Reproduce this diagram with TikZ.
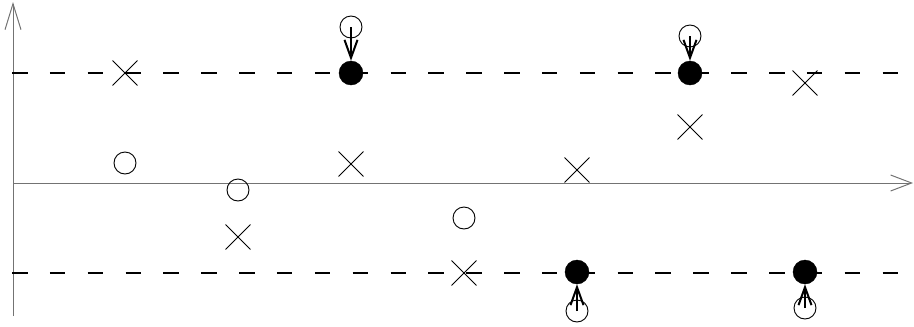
\documentclass[tikz,border=0pt]{standalone}
\usetikzlibrary{arrows.meta,shapes.misc}
\begin{document}
\begin{tikzpicture}[x=1pt,y=-1pt,
  axis/.style={draw=black!55,line width=1pt},
  level/.style={draw=black,line width=1.2pt,dash pattern=on 15.5pt off 22.35pt},
  xmark/.style={cross out,draw=black,line width=0.9pt,minimum size=24pt,inner sep=0pt},
  omark/.style={circle,draw=black,line width=0.9pt,minimum size=22pt,inner sep=0pt},
  fmark/.style={circle,fill=black,draw=black,minimum size=24pt,inner sep=0pt},
  move/.style={draw=black,line width=2pt,-{Straight Barb[length=18pt,width=13pt,line width=2pt]}}]
\useasboundingbox (0,0) rectangle (914,327);
% axes
\coordinate (o) at (13,316);
\coordinate (ytop) at (13,2);
\coordinate (xl) at (13,183);
\coordinate (xr) at (913,183);
\draw[axis,-{Straight Barb[length=26pt,width=16pt,line width=1pt]}] (o) -- (ytop);
\draw[axis,-{Straight Barb[length=21pt,width=16pt,line width=1pt]}] (xl) -- (xr);
% dashed levels
\coordinate (ua) at (12,73); \coordinate (ub) at (897.5,73);
\coordinate (la) at (12,273); \coordinate (lb) at (897.5,273);
\draw[level] (ua) -- (ub);
\draw[level] (la) -- (lb);
% column 1
\node[xmark] (x1) at (125,73) {};
\node[omark] (o1) at (125,163) {};
% column 2
\node[omark] (o2) at (238,190) {};
\node[xmark] (x2) at (238,237) {};
% column 3
\node[omark] (o3) at (351,27) {};
\node[fmark] (f3) at (351,73) {};
\node[xmark] (x3) at (351,164) {};
% column 4
\node[omark] (o4) at (464,218) {};
\node[xmark] (x4) at (464,273) {};
% column 5
\node[xmark] (x5) at (577,170) {};
\node[fmark] (f5) at (577,272) {};
\node[omark] (o5) at (577,311) {};
% column 6
\node[omark] (o6) at (690,36) {};
\node[fmark] (f6) at (690,73) {};
\node[xmark] (x6) at (690,127) {};
% column 7
\node[xmark] (x7) at (805,83) {};
\node[fmark] (f7) at (805,272) {};
\node[omark] (o7) at (805,308) {};
% arrows
\draw[move] (o3.center) -- (f3);
\draw[move] (o6.center) -- (f6);
\draw[move] (o5.center) -- (f5);
\draw[move] (o7.center) -- (f7);
\end{tikzpicture}
\end{document}
